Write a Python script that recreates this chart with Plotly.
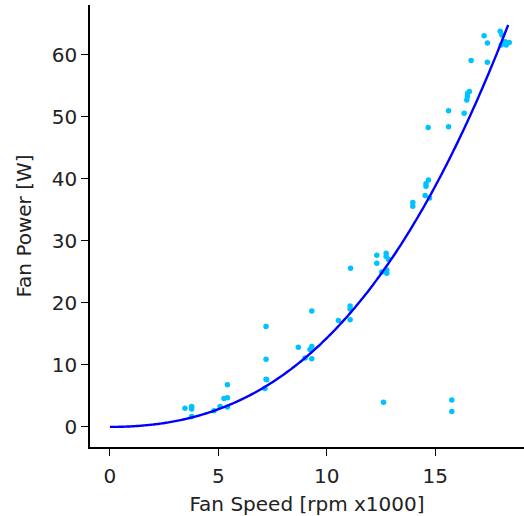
import numpy as np
import plotly.graph_objects as go

# Measured data: fan speed [rpm x1000] and fan power [W]
fan_speed = [3.46, 3.77, 3.77, 3.77, 4.80, 5.08, 5.26, 5.42, 5.42, 5.42,
             7.15, 7.20, 7.23, 7.20, 7.20, 8.69, 9.00, 9.31, 9.23, 9.31, 9.31,
             10.54, 11.08, 11.08, 11.08, 11.10,
             12.31, 12.31, 12.54, 12.62, 12.74, 12.74, 12.77, 12.77, 12.85,
             13.97, 13.97, 14.54, 14.58, 14.58, 14.69, 14.68, 14.74,
             15.62, 15.62, 15.77, 15.77,
             16.34, 16.46, 16.49, 16.50, 16.58, 16.66,
             17.26, 17.41, 17.41, 18.00, 18.05, 18.08, 18.23, 18.28, 18.42]
fan_power = [3.0, 3.3, 2.9, 1.66, 2.6, 3.3, 4.6, 4.7, 6.8, 3.2,
             6.2, 7.7, 7.6, 10.9, 16.2, 12.85, 11.1, 11.0, 12.5, 12.95, 18.7,
             17.15, 19.5, 19.0, 17.3, 25.6,
             27.7, 26.4, 25.0, 3.97, 28.0, 27.5, 25.3, 24.8, 27.0,
             36.2, 35.6, 37.3, 39.2, 38.8, 39.8, 48.3, 36.9,
             51.0, 48.4, 4.35, 2.47,
             50.6, 52.7, 53.3, 53.8, 54.1, 59.1,
             63.1, 61.9, 58.8, 63.8, 61.6, 63.2, 62.1, 61.6, 62.0]

# Fitted model: P = a2*s^2 + a3*s^3
fit_a2 = 0.0847
fit_a3 = 0.005846
fit_s_max = 18.37

s_fit = np.linspace(0, fit_s_max, 300)
p_fit = fit_a2 * s_fit**2 + fit_a3 * s_fit**3

fig = go.Figure()
fig.add_trace(go.Scatter(x=fan_speed, y=fan_power, mode="markers",
                         marker=dict(color="#00C2FF", size=5.5, line=dict(width=0)),
                         showlegend=False))
fig.add_trace(go.Scatter(x=s_fit, y=p_fit, mode="lines",
                         line=dict(color="#0000FF", width=2.4, simplify=False),
                         showlegend=False))

axis_common = dict(showline=True, linecolor="black", linewidth=1.5,
                   ticks="outside", ticklen=7, tickwidth=1.4, tickcolor="black",
                   showgrid=False, zeroline=False, mirror=False, automargin=False,
                   tickfont=dict(family="DejaVu Sans", size=20, color="#222"))

fig.update_layout(
    width=524, height=516,
    margin=dict(l=90, r=0, t=5, b=69),
    plot_bgcolor="white", paper_bgcolor="white",
    font=dict(family="DejaVu Sans", size=20, color="#222"),
    xaxis=dict(range=[-0.92, 19.1], tickvals=[0, 5, 10, 15], ticklabelstandoff=3,
               title=dict(text="Fan Speed [rpm x1000]",
                          font=dict(family="DejaVu Sans", size=20, color="#222")),
               **axis_common),
    yaxis=dict(range=[-3.24, 68.04], tickvals=[0, 10, 20, 30, 40, 50, 60],
               ticklabelstandoff=0,
               title=dict(text="Fan Power [W]",
                          font=dict(family="DejaVu Sans", size=20, color="#222")),
               **axis_common),
)

fig.write_html("out.html", config={"displayModeBar": False},
               post_script="document.body.style.margin='0';document.body.style.padding='0';")
